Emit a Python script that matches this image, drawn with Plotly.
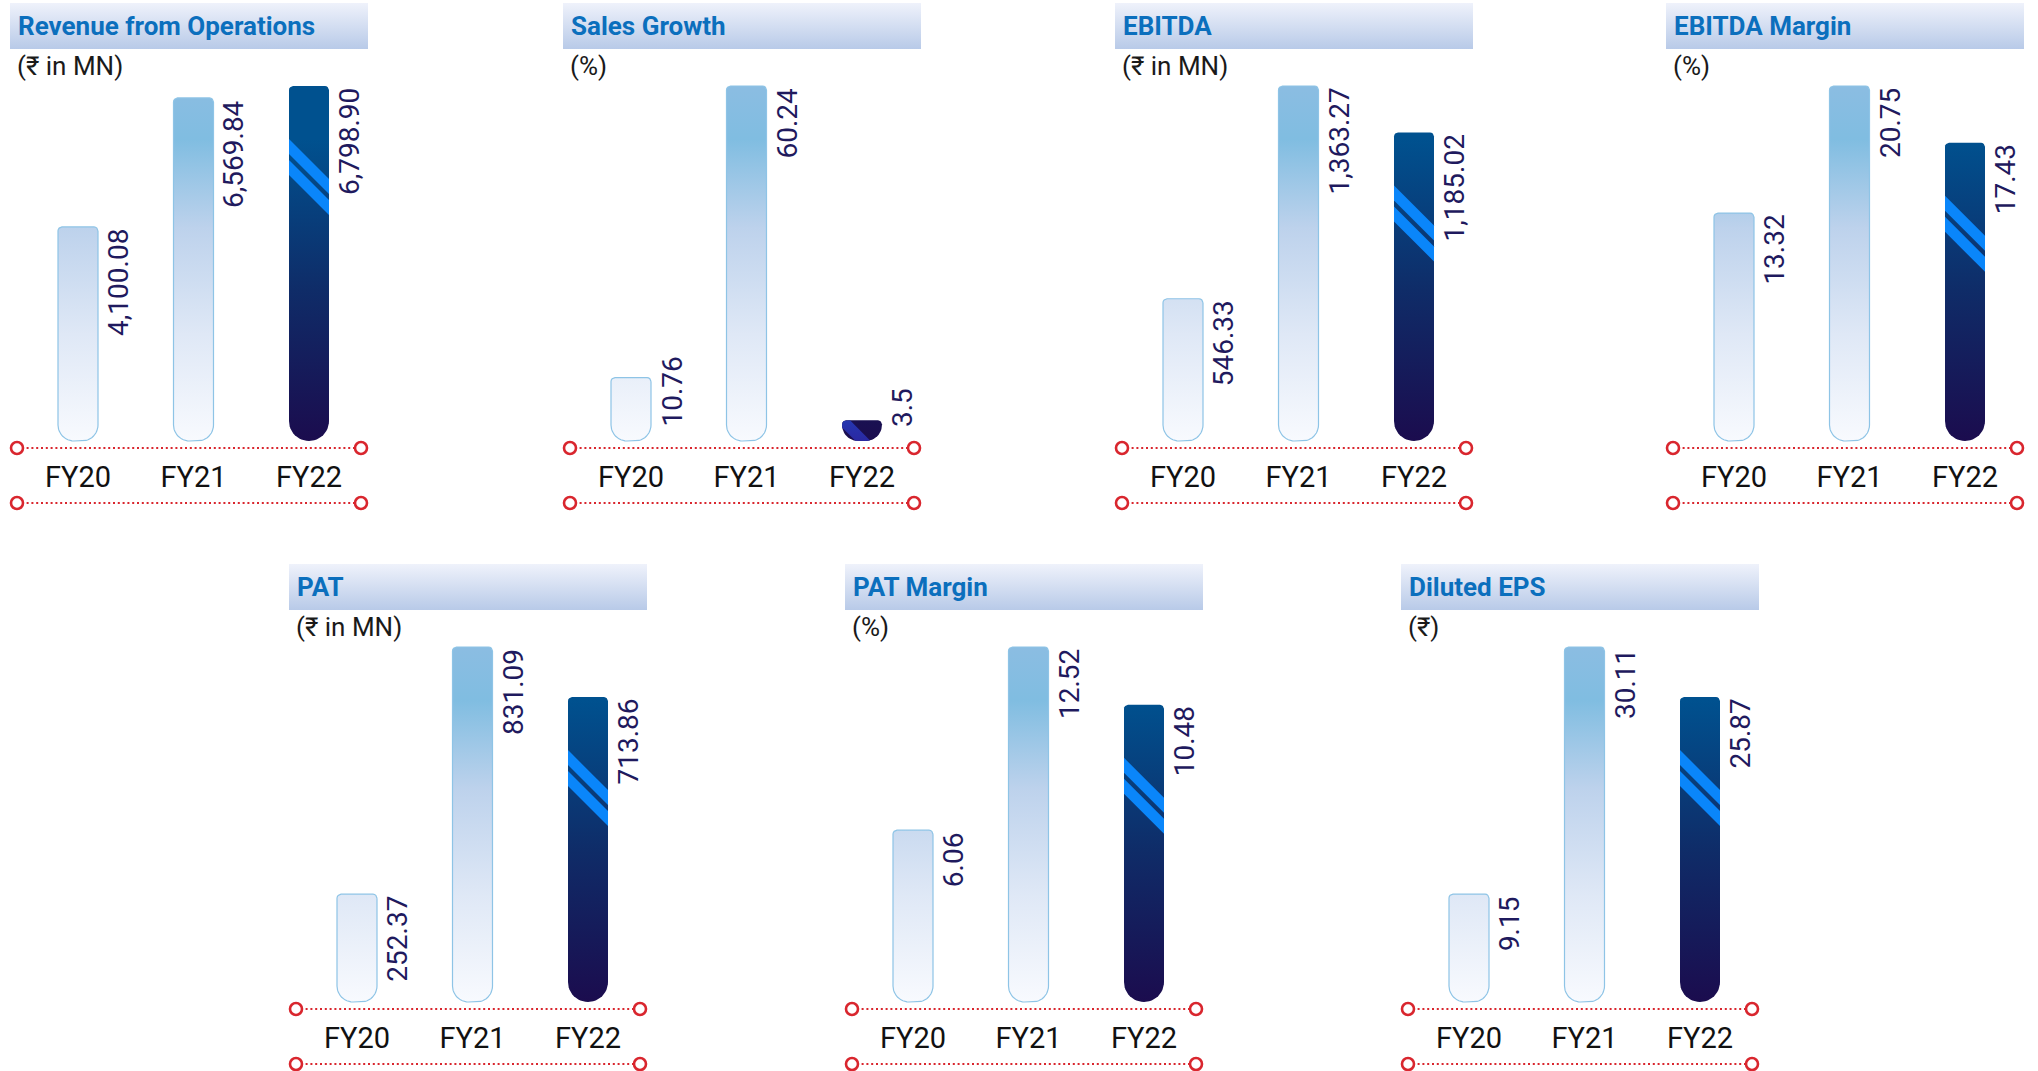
import math
import plotly.graph_objects as go

W, H = 2038, 1071

# ---------------- data ----------------
categories = ["FY20", "FY21", "FY22"]

revenue = [4100.08, 6569.84, 6798.90]
revenue_text = ["4,100.08", "6,569.84", "6,798.90"]
sales_growth = [10.76, 60.24, 3.5]
sales_growth_text = ["10.76", "60.24", "3.5"]
ebitda = [546.33, 1363.27, 1185.02]
ebitda_text = ["546.33", "1,363.27", "1,185.02"]
ebitda_margin = [13.32, 20.75, 17.43]
ebitda_margin_text = ["13.32", "20.75", "17.43"]
pat = [252.37, 831.09, 713.86]
pat_text = ["252.37", "831.09", "713.86"]
pat_margin = [6.06, 12.52, 10.48]
pat_margin_text = ["6.06", "12.52", "10.48"]
diluted_eps = [9.15, 30.11, 25.87]
diluted_eps_text = ["9.15", "30.11", "25.87"]

titles = ["Revenue from Operations", "Sales Growth", "EBITDA", "EBITDA Margin",
          "PAT", "PAT Margin", "Diluted EPS"]
units = ["(₹ in MN)", "(%)", "(₹ in MN)", "(%)", "(₹ in MN)", "(%)", "(₹)"]
series = [revenue, sales_growth, ebitda, ebitda_margin, pat, pat_margin, diluted_eps]
series_text = [revenue_text, sales_growth_text, ebitda_text, ebitda_margin_text,
               pat_text, pat_margin_text, diluted_eps_text]

# ---------------- layout geometry (pixels) ----------------
panel_pos = [(10, 0), (563, 0), (1115, 0), (1666, 0), (289, 561), (845, 561), (1401, 561)]
PANEL_W = 358
C0, STEP = 68, 115.5
HW = 20
BASE = 441
TOPMAX = 86
DOM_T, DOM_B = 60, 447

LIGHT_SCALE = [[0, "#f8fafe"], [0.3, "#dfe8f6"], [0.6, "#bdd2ec"], [0.85, "#80bde1"], [1, "#8bbde2"]]
DARK_SCALE = [[0, "#1b0c4e"], [0.5, "#0f2c68"], [1, "#00518f"]]
STRIPE_SCALE = [[0, "#2a28a2"], [0.5, "#1a5ad0"], [1, "#0a86fa"]]
RED = "#d9262e"
LABEL_COLOR = "#1f1a5e"
FONT = "Roboto, 'Noto Sans', 'DejaVu Sans', sans-serif"


def arc(cx, cy, r, a0, a1, n=10):
    return [(cx + r * math.cos(math.radians(a0 + (a1 - a0) * k / n)),
             cy + r * math.sin(math.radians(a0 + (a1 - a0) * k / n))) for k in range(n + 1)]


def bar_shape(h, rt, rb):
    rb = min(rb, max(h - rt - 0.5, 1.0))
    pts = []
    pts += arc(HW - rt, h - rt, rt, 0, 90, 4)
    pts += arc(-HW + rt, h - rt, rt, 90, 180, 4)
    pts += arc(-HW + rb, rb, rb, 180, 270, 12)
    pts += arc(HW - rb, rb, rb, 270, 360, 12)
    return pts


def clip(subject, clipper):
    out = list(subject)
    n = len(clipper)
    for i in range(n):
        a = clipper[i]
        b = clipper[(i + 1) % n]
        if (abs(a[0] - b[0]) < 1e-9 and abs(a[1] - b[1]) < 1e-9):
            continue
        inp = out
        out = []
        if not inp:
            break

        def inside(p):
            return (b[0] - a[0]) * (p[1] - a[1]) - (b[1] - a[1]) * (p[0] - a[0]) >= 0

        def inter(p, q):
            x1, y1 = p
            x2, y2 = q
            x3, y3 = a
            x4, y4 = b
            den = (x1 - x2) * (y3 - y4) - (y1 - y2) * (x3 - x4)
            t = ((x1 - x3) * (y3 - y4) - (y1 - y3) * (x3 - x4)) / den
            return (x1 + t * (x2 - x1), y1 + t * (y2 - y1))

        s = inp[-1]
        for e in inp:
            if inside(e):
                if not inside(s):
                    out.append(inter(s, e))
                out.append(e)
            elif inside(s):
                out.append(inter(s, e))
            s = e
    return out


def text_len(t, fs=28):
    w = 0
    for ch in t:
        if ch.isdigit():
            w += 0.562
        elif ch == ",":
            w += 0.2
        else:
            w += 0.26
    return w * fs


fig = go.Figure()
layout = dict(
    width=W, height=H, margin=dict(l=0, r=0, t=0, b=0),
    paper_bgcolor="white", plot_bgcolor="rgba(0,0,0,0)",
    showlegend=False, font=dict(family=FONT),
)
shapes = []
annotations = []

# full-page helper axis for header boxes
NP = len(series)
full = NP + 1
layout[f"xaxis{full}"] = dict(domain=[0, 1], range=[0, W], visible=False, anchor=f"y{full}", fixedrange=True)
layout[f"yaxis{full}"] = dict(domain=[0, 1], range=[0, H], visible=False, anchor=f"x{full}", fixedrange=True)

for p, (left, dy) in enumerate(panel_pos):
    hx0, hx1 = left, left + PANEL_W
    hy0, hy1 = H - (3 + dy), H - (49 + dy)
    fig.add_trace(go.Scatter(
        x=[hx0, hx1, hx1, hx0, hx0], y=[hy0, hy0, hy1, hy1, hy0],
        mode="lines", line=dict(width=0), fill="toself",
        fillgradient=dict(type="vertical", colorscale=[[0, "#b8cae8"], [1, "#eff2fb"]],
                          start=hy1, stop=hy0),
        xaxis=f"x{full}", yaxis=f"y{full}", hoverinfo="skip"))

for p, (left, dy) in enumerate(panel_pos):
    k = p + 1
    vals = series[p]
    texts = series_text[p]
    vmax = max(vals)
    ppu = (BASE - TOPMAX) / vmax
    xs = f"x{k}"
    ys = f"y{k}"
    layout[f"xaxis{k}"] = dict(
        domain=[left / W, (left + PANEL_W) / W],
        range=[-C0 / STEP, (PANEL_W - C0) / STEP],
        tickvals=[0, 1, 2], ticktext=categories, ticks="",
        showgrid=False, zeroline=False, showline=False,
        tickfont=dict(family=FONT, size=29, color="#111111"),
        ticklabelstandoff=10, anchor=ys, fixedrange=True)
    layout[f"yaxis{k}"] = dict(
        domain=[1 - (DOM_B + dy) / H, 1 - (DOM_T + dy) / H],
        range=[-(DOM_B - BASE) / ppu, (BASE - DOM_T) / ppu],
        visible=False, anchor=xs, fixedrange=True)

    for i, v in enumerate(vals):
        h = v * ppu
        dark = i == len(vals) - 1
        shape_px = bar_shape(h, 4, 20 if dark else 16)
        bx = [i + q[0] / STEP for q in shape_px] + [i + shape_px[0][0] / STEP]
        by = [q[1] / ppu for q in shape_px] + [shape_px[0][1] / ppu]
        if dark:
            fig.add_trace(go.Scatter(
                x=bx, y=by, mode="lines", line=dict(width=0), fill="toself",
                fillgradient=dict(type="vertical", colorscale=DARK_SCALE, start=0, stop=0.85 * vmax),
                xaxis=xs, yaxis=ys, hoverinfo="skip"))
            u1 = h - 53 if h > 120 else h + 8
            for u in (u1, u1 - 21):
                l = u - 15
                ext = HW + 2
                quad = [(-ext, u + (ext - HW)), (-ext, l + (ext - HW)),
                        (ext, l - (ext + HW)), (ext, u - (ext + HW))]
                band = clip(quad, shape_px)
                if len(band) < 3:
                    continue
                sx = [i + q[0] / STEP for q in band] + [i + band[0][0] / STEP]
                sy = [q[1] / ppu for q in band] + [band[0][1] / ppu]
                fig.add_trace(go.Scatter(
                    x=sx, y=sy, mode="lines", line=dict(width=0), fill="toself",
                    fillgradient=dict(type="vertical", colorscale=STRIPE_SCALE, start=0, stop=0.4 * vmax),
                    xaxis=xs, yaxis=ys, hoverinfo="skip"))
        else:
            fig.add_trace(go.Scatter(
                x=bx, y=by, mode="lines", line=dict(width=1.2, color="#8ec4e6"), fill="toself",
                fillgradient=dict(type="vertical", colorscale=LIGHT_SCALE, start=0, stop=vmax),
                xaxis=xs, yaxis=ys, hoverinfo="skip"))

        # value label
        L = text_len(texts[i])
        if h - L < 12:
            ann_y, yanchor, yshift = 0, "bottom", 12
        else:
            ann_y, yanchor, yshift = v, "top", 0
        annotations.append(dict(
            x=i + HW / STEP, y=ann_y, xref=xs, yref=ys, text=texts[i],
            textangle=-90, xanchor="left", yanchor=yanchor, xshift=2, yshift=yshift,
            showarrow=False, font=dict(family=FONT, size=28, color=LABEL_COLOR)))

    # title & unit
    annotations.append(dict(
        x=(left + 6) / W, y=1 - (26 + dy) / H, xref="paper", yref="paper",
        text=f"<b>{titles[p]}</b>", xanchor="left", yanchor="middle", showarrow=False,
        font=dict(family=FONT, size=26, color="#0b6fbd")))
    annotations.append(dict(
        x=(left + 5) / W, y=1 - (66 + dy) / H, xref="paper", yref="paper",
        text=units[p], xanchor="left", yanchor="middle", showarrow=False,
        font=dict(family=FONT, size=26, color="#1a1a1a")))

    # red dotted rules with circle ends
    for ly in (448 + dy, 503 + dy):
        yp = 1 - ly / H
        shapes.append(dict(type="line", xref="paper", yref="paper",
                           x0=(left + 7) / W, x1=(left + 351) / W, y0=yp, y1=yp,
                           line=dict(color=RED, width=2.2, dash="2px,2.8px")))
        for cx in (left + 7, left + 351):
            r = 6
            shapes.append(dict(type="circle", xref="paper", yref="paper",
                               x0=(cx - r) / W, x1=(cx + r) / W,
                               y0=1 - (ly + r) / H, y1=1 - (ly - r) / H,
                               fillcolor="white", line=dict(color=RED, width=2.6)))

layout["shapes"] = shapes
layout["annotations"] = annotations
fig.update_layout(**layout)
fig.write_html("out.html")
